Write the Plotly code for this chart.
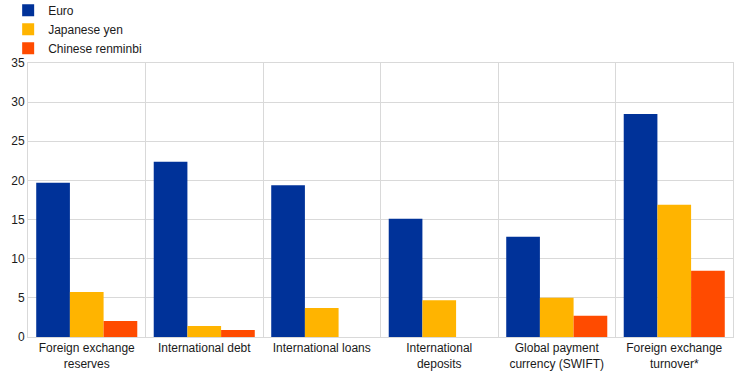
import plotly.graph_objects as go

categories = [
    "Foreign exchange<br>reserves",
    "International debt",
    "International loans",
    "International<br>deposits",
    "Global payment<br>currency (SWIFT)",
    "Foreign exchange<br>turnover*",
]
euro = [19.7, 22.4, 19.4, 15.1, 12.8, 28.5]
yen = [5.75, 1.4, 3.7, 4.7, 5.0, 16.9]
renminbi = [2.05, 0.9, None, None, 2.7, 8.45]

y_ticks = [0, 5, 10, 15, 20, 25, 30, 35]

fig = go.Figure()
fig.add_trace(go.Bar(x=categories, y=euro, name="Euro", marker_color="#003299", marker_line_width=0))
fig.add_trace(go.Bar(x=categories, y=yen, name="Japanese yen", marker_color="#FFB400", marker_line_width=0))
fig.add_trace(go.Bar(x=categories, y=renminbi, name="Chinese renminbi", marker_color="#FF4B00", marker_line_width=0))

fig.update_layout(
    width=742, height=377,
    margin=dict(l=28, r=9, t=63, b=40, autoexpand=False),
    paper_bgcolor="white", plot_bgcolor="white",
    barmode="group", bargap=0.14, bargroupgap=0,
    font=dict(family="Liberation Sans, Arial, sans-serif", size=12, color="#1a1a1a"),
    legend=dict(
        x=0.011, y=1.245, xref="container", yref="paper",
        xanchor="left", yanchor="top",
        orientation="v", font=dict(size=12),
        tracegroupgap=0, itemwidth=30,
        bgcolor="rgba(0,0,0,0)",
    ),
    xaxis=dict(
        type="category", tickson="boundaries", showgrid=True,
        gridcolor="#d9d9d9", gridwidth=1,
        showline=True, linecolor="#d9d9d9", linewidth=1, mirror=True,
        ticks="", tickangle=0, automargin=False, tickfont=dict(size=12),
    ),
    yaxis=dict(
        range=[0, 35], tickvals=y_ticks, showgrid=True,
        gridcolor="#d9d9d9", gridwidth=1,
        showline=True, linecolor="#d9d9d9", linewidth=1, mirror=True,
        zeroline=False, ticks="", automargin=False, tickfont=dict(size=12),
    ),
)

fig.write_html(
    "out.html",
    config={"displayModeBar": False},
    post_script="document.body.style.margin='0';document.body.style.overflow='hidden';",
)
